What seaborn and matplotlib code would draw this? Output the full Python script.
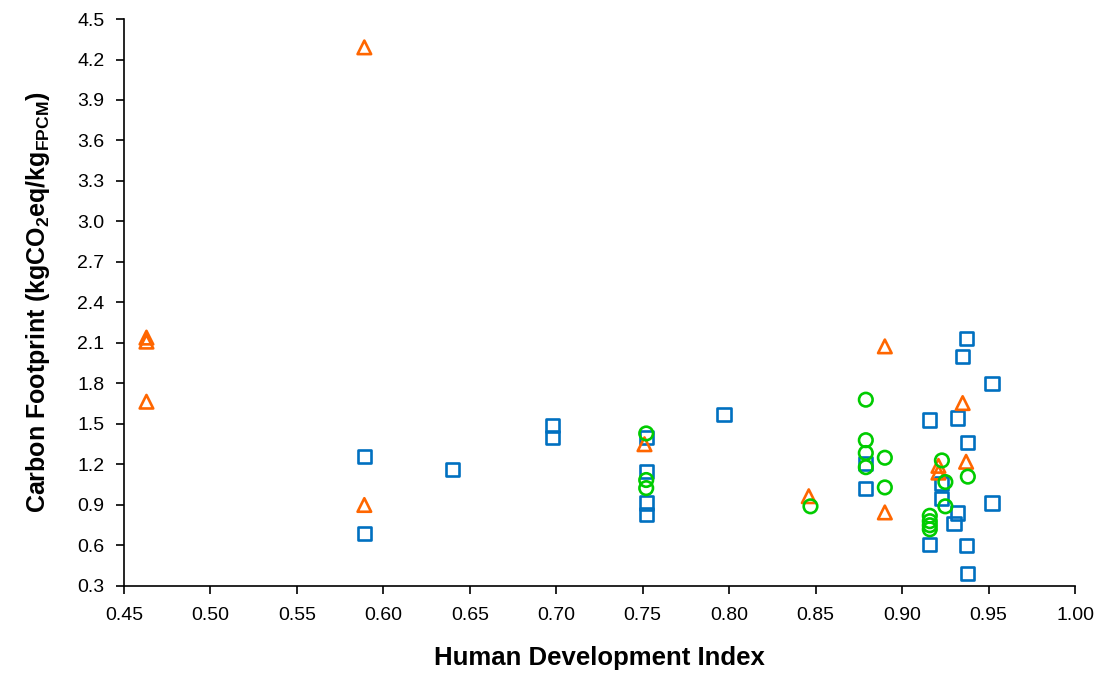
import matplotlib
import pandas as pd
import seaborn as sns
from matplotlib import pyplot as plt
from matplotlib.ticker import MultipleLocator, FormatStrFormatter

# HDI (x) and carbon footprint (y), one pair of lists per series
square_hdi = [0.589, 0.589, 0.640, 0.698, 0.698, 0.752, 0.752, 0.752, 0.752, 0.797,
              0.879, 0.879, 0.916, 0.916, 0.923, 0.923, 0.932, 0.930, 0.932, 0.935,
              0.937, 0.938, 0.937, 0.938, 0.952, 0.952]
square_cf = [1.26, 0.69, 1.16, 1.49, 1.40, 1.40, 1.145, 0.915, 0.83, 1.57,
             1.205, 1.025, 1.53, 0.61, 1.06, 0.95, 0.84, 0.76, 1.545, 2.00,
             2.135, 1.36, 0.60, 0.395, 1.80, 0.915]

circle_hdi = [0.752, 0.752, 0.752, 0.847, 0.879, 0.879, 0.879, 0.879, 0.890, 0.890,
              0.916, 0.916, 0.916, 0.916, 0.923, 0.925, 0.925, 0.938]
circle_cf = [1.43, 1.085, 1.025, 0.89, 1.68, 1.38, 1.285, 1.18, 1.25, 1.03,
             0.82, 0.78, 0.75, 0.72, 1.23, 1.07, 0.89, 1.11]

triangle_hdi = [0.463, 0.463, 0.463, 0.589, 0.589, 0.751, 0.846, 0.890, 0.890, 0.921,
                0.921, 0.935, 0.937]
triangle_cf = [2.14, 2.11, 1.665, 4.29, 0.90, 1.35, 0.965, 2.075, 0.845, 1.19,
               1.14, 1.655, 1.22]


def main():
    sns.set_style('white')
    matplotlib.rcParams['font.family'] = ['Liberation Sans', 'DejaVu Sans']
    matplotlib.rcParams['mathtext.fontset'] = 'custom'
    matplotlib.rcParams['mathtext.rm'] = 'Liberation Sans'
    matplotlib.rcParams['mathtext.bf'] = 'Liberation Sans:bold'
    matplotlib.rcParams['text.color'] = 'black'
    matplotlib.rcParams['axes.labelcolor'] = 'black'

    fig = plt.figure(figsize=(11.05, 6.86), dpi=100)
    ax = fig.add_axes([0.1122, 0.1458, 0.8607, 0.8265])

    series = [
        (square_hdi, square_cf, 's', '#0070C0', 90),
        (triangle_hdi, triangle_cf, '^', '#FF6600', 95),
        (circle_hdi, circle_cf, 'o', '#00CC00', 95),
    ]
    for xs, ys, marker, col, size in series:
        df = pd.DataFrame({'hdi': xs, 'cf': ys})
        sns.scatterplot(data=df, x='hdi', y='cf', marker=marker, s=size,
                        facecolor='none', edgecolor=col, linewidth=1.9, ax=ax)

    ax.set_xlim(0.45, 1.00)
    ax.set_ylim(0.3, 4.5)
    ax.xaxis.set_major_locator(MultipleLocator(0.05))
    ax.yaxis.set_major_locator(MultipleLocator(0.3))
    ax.xaxis.set_major_formatter(FormatStrFormatter('%.2f'))
    ax.yaxis.set_major_formatter(FormatStrFormatter('%.1f'))

    for side in ['top', 'right']:
        ax.spines[side].set_visible(False)
    for side in ['left', 'bottom']:
        ax.spines[side].set_color('black')
        ax.spines[side].set_linewidth(1.2)

    ax.tick_params('both', length=6, width=1.2, direction='out', colors='black',
                   labelsize=14, left=True, bottom=True)
    ax.tick_params('x', pad=9)
    ax.tick_params('y', pad=8)

    ax.set_xlabel('Human Development Index', fontsize=18.5, fontweight='bold', labelpad=16)
    ax.set_ylabel(r'Carbon Footprint (kgCO$_\mathbf{2}$eq/kg$_\mathbf{FPCM}$)',
                  fontsize=18, fontweight='bold', labelpad=18)

    plt.savefig('out.png', dpi=100)


if __name__ == "__main__":
    main()
